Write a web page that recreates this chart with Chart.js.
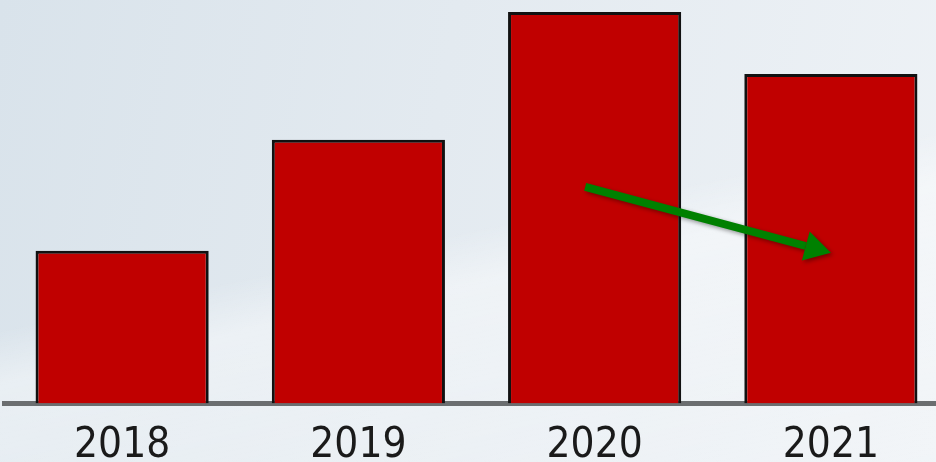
<!DOCTYPE html>
<html>
<head>
<meta charset="utf-8">
<script src="https://cdn.jsdelivr.net/npm/chart.js@4.4.0/dist/chart.umd.min.js"></script>
<style>
    html, body {
        margin: 0;
        padding: 0;
        overflow: hidden;
        width: 936px;
        height: 462px;
    }
    body {
        background:
            linear-gradient(168deg, rgba(255,255,255,0) 0%, rgba(255,255,255,0) 50%, rgba(255,255,255,0.4) 58%, rgba(255,255,255,0.2) 100%),
            linear-gradient(100deg, #d9e3eb 0%, #e3eaf0 45%, #eef2f6 100%);
    }
    #wrap {
        position: absolute;
        left: 0;
        top: 0;
        width: 950px;
        height: 488px;
    }
</style>
</head>
<body>
<div id="wrap"><canvas id="barCanvas"></canvas></div>
<script>
const years = ["2018", "2019", "2020", "2021"];
const values = [153, 264, 392, 330];
// arrow: [category position, value]
const arrowFrom = [1.96, 217];
const arrowTo = [3.0, 151];

const arrowPlugin = {
    id: "trendArrow",
    afterDatasetsDraw(chart) {
        const ctx = chart.ctx;
        const x = chart.scales.x;
        const y = chart.scales.y;
        const x0 = x.getPixelForValue(arrowFrom[0]);
        const y0 = y.getPixelForValue(arrowFrom[1]);
        const x1 = x.getPixelForValue(arrowTo[0]);
        const y1 = y.getPixelForValue(arrowTo[1]);
        const ang = Math.atan2(y1 - y0, x1 - x0);
        const headLen = 26;
        const headW = 15;
        const bx = x1 - headLen * Math.cos(ang);
        const by = y1 - headLen * Math.sin(ang);
        ctx.save();
        ctx.shadowColor = "rgba(0,0,0,0.4)";
        ctx.shadowBlur = 4;
        ctx.shadowOffsetX = 2;
        ctx.shadowOffsetY = 2;
        ctx.strokeStyle = "#008000";
        ctx.fillStyle = "#008000";
        ctx.lineWidth = 8;
        ctx.beginPath();
        ctx.moveTo(x0, y0);
        ctx.lineTo(bx, by);
        ctx.stroke();
        ctx.beginPath();
        ctx.moveTo(x1, y1);
        ctx.lineTo(bx + headW * Math.sin(ang), by - headW * Math.cos(ang));
        ctx.lineTo(bx - headW * Math.sin(ang), by + headW * Math.cos(ang));
        ctx.closePath();
        ctx.fill();
        ctx.restore();
    }
};

const barChart = new Chart(document.getElementById("barCanvas").getContext("2d"), {
    type: "bar",
    data: {
        labels: years,
        datasets: [{
            data: values,
            backgroundColor: "#c00000",
            borderColor: "#111111",
            borderWidth: 3,
            barPercentage: 0.733,
            categoryPercentage: 1
        }]
    },
    options: {
        responsive: true,
        maintainAspectRatio: false,
        animation: false,
        layout: {
            padding: { left: 4, right: 1, top: 0, bottom: 0 }
        },
        plugins: {
            legend: { display: false },
            tooltip: { enabled: false }
        },
        scales: {
            x: {
                grid: { display: false, drawTicks: false },
                border: { display: true, color: "#6b6e70", width: 5 },
                ticks: {
                    color: "#1a1a1a",
                    padding: 17,
                    font: { family: "'DejaVu Sans Condensed', 'Liberation Sans', sans-serif", size: 42 }
                }
            },
            y: {
                display: false,
                min: 0,
                max: 404
            }
        }
    },
    plugins: [arrowPlugin]
});
</script>
</body>
</html>
